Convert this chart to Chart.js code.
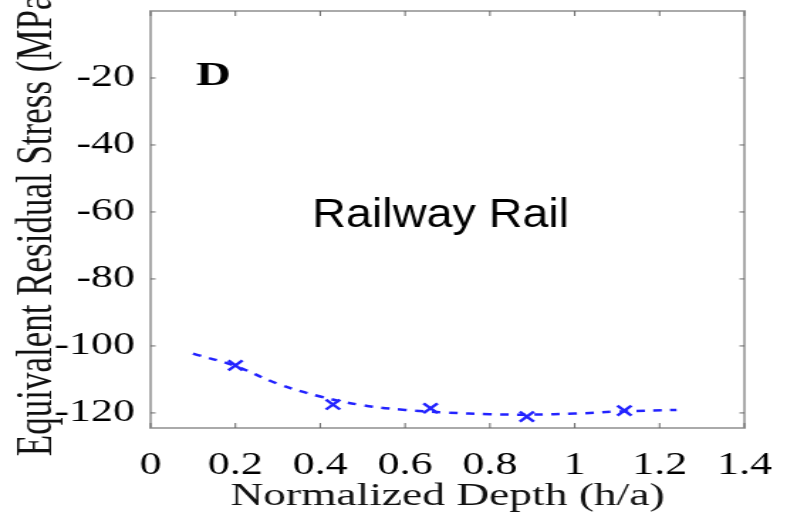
<!DOCTYPE html>
<html>
<head>
<meta charset="utf-8">
<script src="https://cdn.jsdelivr.net/npm/chart.js@4.4.1/dist/chart.umd.min.js"></script>
<style>
  html, body { margin: 0; padding: 0; background: #fff; overflow: hidden; }
  /* the source figure is stretched sideways, so draw narrow and stretch */
  #wrap { width: 554px; height: 521px; transform: scaleX(1.4206); transform-origin: 0 0; }
</style>
</head>
<body>
<div id="wrap"><canvas id="chart" width="554" height="521"></canvas></div>
<script>
// measured points (x markers)
const depthPoints = [0.20, 0.43, 0.66, 0.887, 1.117];
const stressPoints = [-105.8, -117.5, -118.6, -121.1, -119.3];

// dashed fitted curve
const fitDepth = [0.10, 0.20, 0.30, 0.40, 0.50, 0.60, 0.70, 0.80, 0.90, 1.00, 1.10, 1.24];
const fitStress = [-102.3, -106.0, -111.3, -115.1, -117.7, -119.1, -119.9, -120.4, -120.5, -120.2, -119.6, -119.1];

const xTickVals = [0, 0.2, 0.4, 0.6, 0.8, 1, 1.2, 1.4];
const xTickLabels = ['0', '0.2', '0.4', '0.6', '0.8', '1', '1.2', '1.4'];
const yTickVals = [-120, -100, -80, -60, -40, -20];
const yTickLabels = ['-120', '-100', '-80', '-60', '-40', '-20'];

const serif = '"Liberation Serif", "Times New Roman", serif';
const blue = 'rgb(35,35,255)';

const framePlugin = {
  id: 'frame',
  afterDraw(chart) {
    const ctx = chart.ctx;
    const { left, right, top, bottom } = chart.chartArea;
    const xs = chart.scales.x, ys = chart.scales.y;
    ctx.save();
    ctx.strokeStyle = '#aaa';
    ctx.lineWidth = 2;
    ctx.strokeRect(left, top, right - left, bottom - top);
    // inward ticks, matlab style
    ctx.lineWidth = 1;
    ctx.strokeStyle = '#666';
    ctx.beginPath();
    xTickVals.forEach(v => {
      const px = xs.getPixelForValue(v);
      ctx.moveTo(px, bottom); ctx.lineTo(px, bottom - 5);
      ctx.moveTo(px, top); ctx.lineTo(px, top + 5);
    });
    yTickVals.forEach(v => {
      const py = ys.getPixelForValue(v);
      ctx.moveTo(left, py); ctx.lineTo(left + 3.5, py);
      ctx.moveTo(right, py); ctx.lineTo(right - 3.5, py);
    });
    ctx.stroke();

    // panel letter
    ctx.fillStyle = '#000';
    ctx.font = 'bold 34px ' + serif;
    ctx.textBaseline = 'alphabetic';
    ctx.fillText('D', xs.getPixelForValue(0.1075), ys.getPixelForValue(-22.2));

    // overlay label
    ctx.translate(xs.getPixelForValue(0.381), ys.getPixelForValue(-64.6));
    ctx.scale(0.822, 1);
    ctx.font = '40px "Liberation Sans", Arial, sans-serif';
    ctx.fillText('Railway Rail', 0, 0);
    ctx.restore();
  }
};

const ctx = document.getElementById('chart').getContext('2d');
new Chart(ctx, {
  type: 'scatter',
  data: {
    datasets: [
      {
        label: 'fit',
        data: fitDepth.map((x, i) => ({ x, y: fitStress[i] })),
        showLine: true,
        borderColor: blue,
        borderWidth: 2.5,
        borderDash: [6, 6],
        pointRadius: 0,
        tension: 0.4,
        fill: false
      },
      {
        label: 'measured',
        data: depthPoints.map((x, i) => ({ x, y: stressPoints[i] })),
        showLine: false,
        pointStyle: 'crossRot',
        pointRadius: 7,
        borderColor: blue,
        backgroundColor: blue,
        pointBorderWidth: 2.4
      }
    ]
  },
  options: {
    responsive: false,
    animation: false,
    devicePixelRatio: 1,
    layout: { padding: { top: 11, right: 30, bottom: 0, left: 0 } },
    plugins: {
      legend: { display: false },
      tooltip: { enabled: false }
    },
    scales: {
      x: {
        type: 'linear',
        min: 0,
        max: 1.4,
        afterBuildTicks: s => { s.ticks = xTickVals.map(v => ({ value: v })); },
        afterFit: s => { s.height = 93; s.paddingLeft = 0; s.paddingRight = 0; },
        grid: { display: false },
        border: { display: false },
        ticks: {
          autoSkip: false,
          maxRotation: 0,
          padding: 11,
          color: '#000',
          font: { family: serif, size: 31 },
          callback: v => xTickLabels[xTickVals.indexOf(v)]
        },
        title: {
          display: true,
          text: 'Normalized Depth (h/a)',
          color: '#111',
          font: { family: serif, size: 32 },
          padding: { top: 0, bottom: 5 }
        }
      },
      y: {
        type: 'linear',
        min: -124.5,
        max: 0,
        afterBuildTicks: s => { s.ticks = yTickVals.map(v => ({ value: v })); },
        afterFit: s => { s.width = 106; s.paddingTop = 0; s.paddingBottom = 0; },
        grid: { display: false },
        border: { display: false },
        ticks: {
          padding: 3,
          color: '#000',
          font: { family: serif, size: 31 },
          callback: v => yTickLabels[yTickVals.indexOf(v)]
        },
        title: {
          display: true,
          text: 'Equivalent Residual Stress (MPa)',
          color: '#111',
          font: { family: serif, size: 35 },
          padding: { top: 6, bottom: 0 }
        }
      }
    }
  },
  plugins: [framePlugin]
});
</script>
</body>
</html>
